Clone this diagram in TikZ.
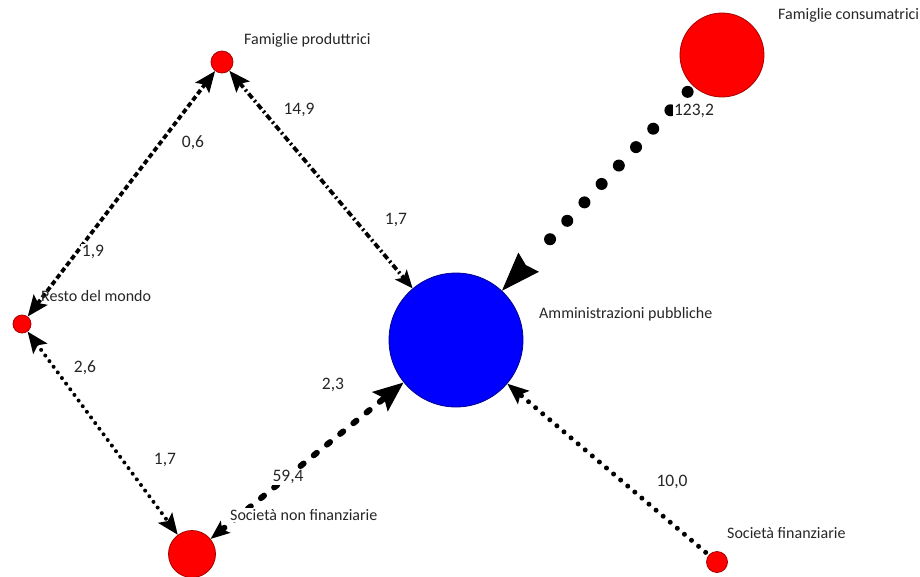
\documentclass[tikz,border=0pt]{standalone}
\usepackage{fontspec}
\setmainfont{Carlito}
\usetikzlibrary{arrows.meta}
\definecolor{txt}{HTML}{262626}
\begin{document}
\begin{tikzpicture}[x=1pt,y=-1pt,
  dot/.style={circle,inner sep=0pt,fill=red,draw=red!65!black,line width=0.8pt},
  bigblue/.style={circle,inner sep=0pt,fill=blue,draw=blue!55!black,line width=0.8pt},
  lbl/.style={anchor=west,inner sep=1pt,text=txt,font=\fontsize{16}{19}\selectfont},
  num/.style={inner sep=1pt,fill=white,text=txt,font=\fontsize{17.5}{20}\selectfont},
  tipA/.tip={Stealth[length=21pt,width=17pt,inset=4pt]},
  tipB/.tip={Stealth[length=30pt,width=24pt,inset=5pt]},
  tipC/.tip={Stealth[length=39pt,width=28pt,inset=4pt]},
  dashline/.style={line width=3.8pt,dash pattern=on 5pt off 3pt},
  dashdotline/.style={line width=3.8pt,dash pattern=on 6pt off 3pt on 2pt off 3pt},
  bigdots/.style={line width=12pt,line cap=round,dash pattern=on 0pt off 25.2pt},
  smalldots/.style={line width=4pt,line cap=round,dash pattern=on 0pt off 7pt},
  middots/.style={line width=5pt,line cap=round,dash pattern=on 0pt off 9.3pt},
  thickdash/.style={line width=6pt,line cap=round,dash pattern=on 4pt off 13pt},
  tiponly/.style={line width=1pt,dash pattern=on 0pt off 2000pt}
]
\useasboundingbox (0,0) rectangle (920,576);

% nodes
\node[dot,minimum size=22pt] (fp) at (222,62) {};
\node[dot,minimum size=84pt] (fc) at (722,55) {};
\node[dot,minimum size=18pt] (rdm) at (22,324) {};
\node[bigblue,minimum size=134pt] (ap) at (456,340) {};
\node[dot,minimum size=47pt] (snf) at (192,554) {};
\node[dot,minimum size=21pt] (sf) at (717,562) {};

% connectors
\draw[dashline,{tipA}-{tipA}] (fp) -- (rdm);
\draw[dashdotline,{tipA}-{Stealth[length=18pt,width=15pt,inset=4pt]}] (fp) -- (ap);
\draw[bigdots,shorten <=8pt,shorten >=52pt] (fc) -- (ap);
\draw[tiponly,-{tipC}] (fc) -- (ap);
\draw[smalldots,{tipA}-{tipA}] (rdm) -- (snf);
\draw[thickdash,{Stealth[length=19pt,width=15pt,inset=4pt]}-{tipB}] (snf) -- (ap);
\draw[middots,shorten <=4pt,-{tipA}] (sf) -- (ap);

% labels
\node[lbl] (lfp) at (243,40) {Famiglie produttrici};
\node[lbl] (lfc) at (777,15) {Famiglie consumatrici};
\node[lbl] (lrdm) at (40,296) {Resto del mondo};
\node[lbl] (lap) at (538,314) {Amministrazioni pubbliche};
\node[lbl,fill=white] (lsnf) at (229,515) {Società non finanziarie};
\node[lbl] (lsf) at (726,533) {Società finanziarie};

% numbers
\node[num] (n1) at (299,110) {14,9};
\node[num] (n2) at (193,143) {0,6};
\node[num] (n3) at (93,252) {1,9};
\node[num] (n4) at (396,220) {1,7};
\node[num] (n5) at (694,111) {123,2};
\node[num] (n6) at (85,368) {2,6};
\node[num] (n7) at (165,460) {1,7};
\node[num] (n8) at (333,385) {2,3};
\node[num] (n9) at (288,477) {59,4};
\node[num] (n10) at (672,482) {10,0};
\end{tikzpicture}
\end{document}
